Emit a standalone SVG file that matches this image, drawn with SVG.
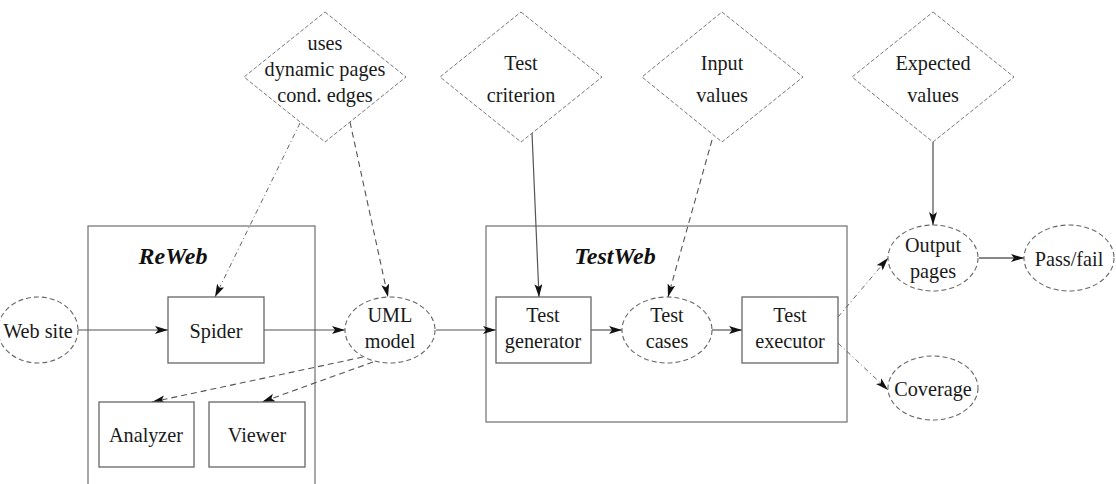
<svg xmlns="http://www.w3.org/2000/svg" width="1116" height="484" viewBox="0 0 1116 484">
<style>
.t{font-family:'Liberation Serif','Tinos','Times New Roman','DejaVu Serif',serif;font-size:22px;fill:#1a1a1a;text-anchor:middle;transform-box:fill-box;transform-origin:center;transform:scaleX(0.92)}
.lbl{font-family:'Liberation Serif','Tinos','Times New Roman','DejaVu Serif',serif;font-size:24px;font-weight:bold;font-style:italic;fill:#111;text-anchor:middle}
.box{fill:none;stroke:#7a7a7a;stroke-width:1.3}
.rect{fill:#fff;stroke:#666;stroke-width:1.3}
.ell{fill:#fff;stroke:#666;stroke-width:1.1;stroke-dasharray:5 3}
.dia{fill:#fff;stroke:#777;stroke-width:1;stroke-dasharray:4 2}
.s{fill:none;stroke:#555;stroke-width:1.2;marker-end:url(#ah)}
.g{fill:none;stroke:#888;stroke-width:1.8;marker-end:url(#ah)}
.d{fill:none;stroke:#555;stroke-width:1.1;stroke-dasharray:6 4;marker-end:url(#ah)}
.dd{fill:none;stroke:#666;stroke-width:1;stroke-dasharray:5 3 1 3;marker-end:url(#ah)}
</style>
<defs>
<marker id="ah" markerWidth="14" markerHeight="8" refX="13" refY="4" orient="auto" markerUnits="userSpaceOnUse">
<path d="M0,0 L13,4 L0,8 L3,4 z" fill="#111"/>
</marker>
</defs>
<rect width="1116" height="484" fill="#fff"/>
<g id="reweb">
<rect class="box" x="88" y="226" width="227" height="270"/>
<text class="lbl" x="173" y="264">ReWeb</text>
</g>
<g id="testweb">
<rect class="box" x="486" y="226" width="361" height="196"/>
<text class="lbl" x="615" y="264">TestWeb</text>
</g>
<g id="connectors">
<line class="s" x1="78" y1="330" x2="168" y2="330"/>
<line class="s" x1="264" y1="330" x2="345" y2="330"/>
<line class="s" x1="436" y1="330" x2="496" y2="330"/>
<line class="s" x1="591" y1="330" x2="622" y2="330"/>
<line class="s" x1="712" y1="330" x2="742" y2="330"/>
<line class="dd" x1="838" y1="317" x2="888" y2="258"/>
<line class="dd" x1="838" y1="343" x2="888" y2="390"/>
<line class="g" x1="979" y1="258" x2="1024" y2="258"/>
<line class="g" x1="933" y1="142" x2="933" y2="225"/>
<line class="dd" x1="300" y1="123" x2="215" y2="297"/>
<line class="d" x1="350" y1="122" x2="388" y2="297"/>
<line class="s" x1="532" y1="133" x2="539" y2="297"/>
<line class="d" x1="712" y1="140" x2="668" y2="297"/>
<line class="d" x1="363" y1="357" x2="152" y2="402"/>
<line class="d" x1="373" y1="362" x2="262" y2="402"/>
</g>
<g id="website">
<ellipse class="ell" cx="38" cy="330" rx="40" ry="33"/>
<text class="t" x="38" y="338">Web site</text>
</g>
<g id="spider">
<rect class="rect" x="168" y="297" width="96" height="66"/>
<text class="t" x="216" y="338">Spider</text>
</g>
<g id="analyzer">
<rect class="rect" x="99" y="402" width="95" height="65"/>
<text class="t" x="146" y="442">Analyzer</text>
</g>
<g id="viewer">
<rect class="rect" x="209" y="402" width="96" height="65"/>
<text class="t" x="257" y="442">Viewer</text>
</g>
<g id="uml">
<ellipse class="ell" cx="390" cy="330" rx="45" ry="33"/>
<text class="t" x="390" y="322">UML</text>
<text class="t" x="390" y="348">model</text>
</g>
<g id="testgen">
<rect class="rect" x="496" y="297" width="95" height="66"/>
<text class="t" x="543" y="322">Test</text>
<text class="t" x="543" y="348">generator</text>
</g>
<g id="testcases">
<ellipse class="ell" cx="667" cy="330" rx="45" ry="33"/>
<text class="t" x="667" y="322">Test</text>
<text class="t" x="667" y="348">cases</text>
</g>
<g id="testexec">
<rect class="rect" x="742" y="297" width="96" height="66"/>
<text class="t" x="790" y="322">Test</text>
<text class="t" x="790" y="348">executor</text>
</g>
<g id="output">
<ellipse class="ell" cx="933" cy="258" rx="45" ry="33"/>
<text class="t" x="933" y="252">Output</text>
<text class="t" x="933" y="278">pages</text>
</g>
<g id="passfail">
<ellipse class="ell" cx="1069" cy="258" rx="45" ry="33"/>
<text class="t" x="1069" y="266">Pass/fail</text>
</g>
<g id="coverage">
<ellipse class="ell" cx="933" cy="388" rx="45" ry="32"/>
<text class="t" x="933" y="396">Coverage</text>
</g>
<g id="uses">
<polygon class="dia" points="325,12 406,77 325,142 244,77"/>
<text class="t" x="325" y="50">uses</text>
<text class="t" x="325" y="76">dynamic pages</text>
<text class="t" x="325" y="102">cond. edges</text>
</g>
<g id="criterion">
<polygon class="dia" points="521,12 602,77 521,142 440,77"/>
<text class="t" x="521" y="70">Test</text>
<text class="t" x="521" y="102">criterion</text>
</g>
<g id="input">
<polygon class="dia" points="722,12 803,77 722,142 642,77"/>
<text class="t" x="722" y="70">Input</text>
<text class="t" x="722" y="102">values</text>
</g>
<g id="expected">
<polygon class="dia" points="933,12 1014,77 933,142 852,77"/>
<text class="t" x="933" y="70">Expected</text>
<text class="t" x="933" y="102">values</text>
</g>
</svg>
